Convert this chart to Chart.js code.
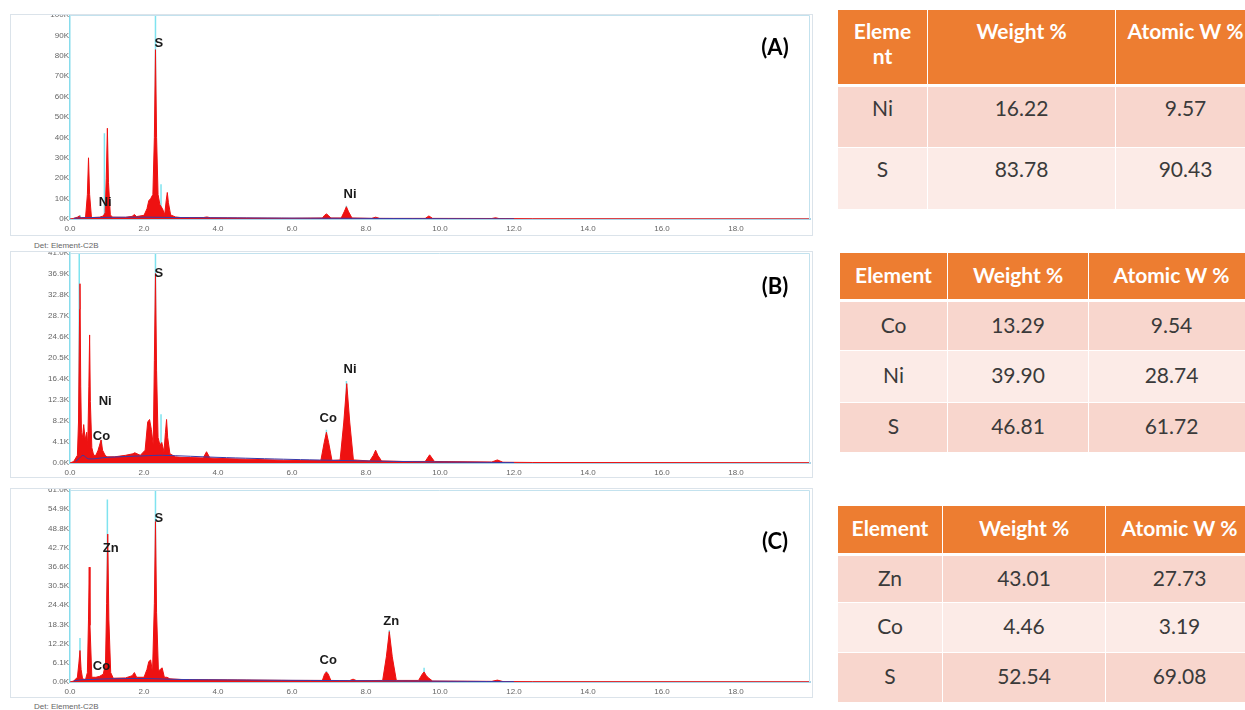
<!DOCTYPE html>
<html>
<head>
<meta charset="utf-8">
<script src="https://cdn.jsdelivr.net/npm/chart.js@4.4.1/dist/chart.umd.min.js"></script>
<style>
  html, body { margin: 0; padding: 0; background: #fff; }
  body { width: 1245px; height: 710px; position: relative; overflow: hidden; font-family: Lato, "Open Sans", sans-serif; }
  .panel { position: absolute; left: 10px; width: 801px; border: 1px solid #dbe3ea; background: #fff; }
  .det { position: absolute; left: 34px; font: 8px "Liberation Sans", Arial, sans-serif; color: #666; }
  table { position: absolute; border-collapse: collapse; table-layout: fixed; font-size: 21px; color: #3a3a3a; }
  th { background: #ed7d31; color: #fff; font-weight: bold; font-size: 21px; border: 1.5px solid #fff; border-bottom: 3px solid #fff; white-space: nowrap; }
  td { border: 1.5px solid #fff; text-align: center; }
  tr.dark td { background: #f8d6cd; }
  tr.light td { background: #fcebe7; }
  #tabA th, #tabA td { vertical-align: top; padding-top: 8px; }
  #tabB th, #tabB td, #tabC th, #tabC td { vertical-align: middle; padding-bottom: 5px; }
</style>
</head>
<body>

<div class="panel" style="top:14px;height:220px"><canvas id="chartA"></canvas></div>
<div class="det" style="top:241px">Det: Element-C2B</div>
<div class="panel" style="top:251px;height:225px"><canvas id="chartB"></canvas></div>
<div class="panel" style="top:488px;height:208px"><canvas id="chartC"></canvas></div>
<div class="det" style="top:702px">Det: Element-C2B</div>

<table id="tabA" style="left:837px;top:9px;width:418px">
  <colgroup><col style="width:90px"><col style="width:188px"><col style="width:140px"></colgroup>
  <tr style="height:76px"><th>Eleme<br>nt</th><th>Weight %</th><th>Atomic W %</th></tr>
  <tr class="dark" style="height:62px"><td>Ni</td><td>16.22</td><td>9.57</td></tr>
  <tr class="light" style="height:62px"><td>S</td><td>83.78</td><td>90.43</td></tr>
</table>

<table id="tabB" style="left:839px;top:252px;width:415px">
  <colgroup><col style="width:108px"><col style="width:141px"><col style="width:166px"></colgroup>
  <tr style="height:48px"><th>Element</th><th>Weight %</th><th>Atomic W %</th></tr>
  <tr class="dark" style="height:50px"><td>Co</td><td>13.29</td><td>9.54</td></tr>
  <tr class="light" style="height:52px"><td>Ni</td><td>39.90</td><td>28.74</td></tr>
  <tr class="dark" style="height:50px"><td>S</td><td>46.81</td><td>61.72</td></tr>
</table>

<table id="tabC" style="left:837px;top:505px;width:416px">
  <colgroup><col style="width:105px"><col style="width:163px"><col style="width:148px"></colgroup>
  <tr style="height:49px"><th>Element</th><th>Weight %</th><th>Atomic W %</th></tr>
  <tr class="dark" style="height:48px"><td>Zn</td><td>43.01</td><td>27.73</td></tr>
  <tr class="light" style="height:50px"><td>Co</td><td>4.46</td><td>3.19</td></tr>
  <tr class="dark" style="height:50px"><td>S</td><td>52.54</td><td>69.08</td></tr>
</table>

<script>
// ---- spectrum A (Ni-S) : energy in keV, counts
const energyA = [0, 0.1, 0.2, 0.25, 0.3, 0.42, 0.47, 0.5, 0.53, 0.58, 0.8, 0.9, 0.95, 0.98, 1.01, 1.04, 1.09, 1.15, 1.5, 1.68, 1.74, 1.8, 2.0, 2.08, 2.13, 2.18, 2.24, 2.28, 2.31, 2.34, 2.38, 2.43, 2.5, 2.56, 2.6, 2.63, 2.66, 2.72, 2.85, 3.0, 3.6, 3.7, 3.8, 5.0, 6.0, 6.82, 6.88, 6.93, 6.98, 7.05, 7.33, 7.41, 7.47, 7.53, 7.62, 8.15, 8.26, 8.37, 9.6, 9.7, 9.8, 11.4, 11.5, 11.6, 12.5, 20];
const countsA = [0, 300, 900, 1500, 600, 700, 12000, 30000, 12000, 700, 900, 1500, 3000, 20000, 44500, 18000, 2000, 900, 800, 1300, 2200, 1200, 1800, 5000, 9000, 10000, 12000, 40000, 83000, 40000, 12000, 7000, 5000, 2200, 9000, 13000, 8000, 2000, 1000, 700, 700, 1000, 600, 450, 350, 500, 1800, 2500, 1800, 500, 500, 3500, 6000, 3500, 500, 300, 900, 300, 300, 1500, 300, 250, 600, 200, 100, 50];
const lineEA = [0.27, 0.93, 2.31, 2.46, 7.47, 8.26];
const lineHA = [2000, 42000, 100000, 17000, 6500, 900];
const bgEA = [0.1, 0.3, 1.0, 2.0, 3.0, 5.0, 8.0, 10.0, 12.0];
const bgCA = [300, 600, 800, 900, 700, 500, 300, 150, 60];
const tagsA = [['S', 2.4, 86000], ['Ni', 0.95, 8000], ['Ni', 7.57, 12000]];

// ---- spectrum B (Co-Ni-S)
const energyB = [0, 0.1, 0.2, 0.23, 0.26, 0.27, 0.29, 0.31, 0.34, 0.37, 0.41, 0.45, 0.48, 0.51, 0.53, 0.55, 0.59, 0.64, 0.7, 0.76, 0.8, 0.84, 0.88, 0.95, 1.0, 1.2, 1.5, 1.7, 1.75, 1.9, 2.03, 2.1, 2.15, 2.2, 2.25, 2.28, 2.31, 2.34, 2.38, 2.43, 2.48, 2.54, 2.58, 2.61, 2.64, 2.7, 2.85, 3.0, 3.6, 3.69, 3.78, 4.0, 5.0, 6.0, 6.78, 6.87, 6.93, 6.99, 7.08, 7.3, 7.4, 7.48, 7.56, 7.66, 8.1, 8.2, 8.26, 8.32, 8.42, 9.0, 9.6, 9.72, 9.85, 11.4, 11.55, 11.7, 12.5, 20];
const countsB = [0, 300, 1500, 8000, 30000, 35000, 15000, 6000, 5000, 7500, 4500, 6000, 3500, 15000, 25000, 12000, 3000, 1500, 1500, 2500, 3500, 4500, 2500, 1500, 1200, 1200, 1500, 1800, 2000, 1500, 2500, 8000, 8500, 6500, 3500, 20000, 37000, 18000, 5000, 3500, 4000, 2200, 6000, 8500, 5000, 1800, 1200, 1100, 1000, 2200, 1000, 900, 700, 500, 500, 4000, 6000, 4000, 500, 600, 8000, 15500, 8000, 600, 400, 1500, 2500, 1500, 400, 300, 300, 1600, 300, 200, 600, 150, 100, 50];
const lineEB = [0.25, 0.78, 0.85, 2.31, 2.46, 6.93, 7.47];
const lineHB = [41000, 3000, 4500, 41000, 9500, 6500, 16000];
const bgEB = [0.15, 0.25, 0.35, 0.5, 1.0, 2.0, 2.5, 4.0, 6.0, 8.0, 10.0, 12.0];
const bgCB = [300, 900, 1500, 800, 1100, 1400, 1500, 1100, 700, 400, 200, 80];
const tagsB = [['S', 2.4, 37000], ['Ni', 0.95, 12000], ['Co', 0.85, 5200], ['Co', 6.98, 8800], ['Ni', 7.57, 18200]];

// ---- spectrum C (Zn-Co-S)
const energyC = [0, 0.1, 0.2, 0.24, 0.27, 0.3, 0.34, 0.42, 0.47, 0.5, 0.52, 0.54, 0.59, 0.7, 0.8, 0.9, 0.96, 0.99, 1.02, 1.05, 1.1, 1.17, 1.5, 1.68, 1.74, 1.8, 2.0, 2.08, 2.13, 2.18, 2.23, 2.28, 2.31, 2.34, 2.39, 2.44, 2.49, 2.55, 2.62, 2.7, 3.0, 4.0, 5.0, 6.0, 6.82, 6.88, 6.93, 6.98, 7.05, 7.55, 7.65, 7.75, 8.45, 8.55, 8.63, 8.71, 8.82, 9.42, 9.52, 9.57, 9.63, 9.7, 9.8, 11.4, 11.55, 11.7, 12.5, 20];
const countsC = [0, 300, 1500, 6000, 10000, 4000, 1000, 800, 3000, 20000, 36500, 18000, 1500, 1500, 1800, 2500, 6000, 25000, 47000, 20000, 3000, 1200, 1300, 2000, 3000, 1500, 1500, 4000, 6500, 7000, 3000, 25000, 51000, 22000, 3500, 4000, 4500, 1500, 1500, 1000, 800, 700, 600, 500, 500, 2500, 3200, 2500, 500, 400, 900, 400, 500, 8000, 16000, 8000, 500, 500, 2500, 3200, 2000, 1200, 300, 200, 600, 150, 100, 50];
const lineEC = [0.27, 1.01, 2.31, 6.93, 8.63, 9.57];
const lineHC = [14000, 58000, 61000, 3500, 16500, 4500];
const bgEC = [0.1, 0.3, 0.6, 1.0, 2.0, 3.0, 5.0, 8.0, 10.0, 12.0];
const bgCC = [300, 700, 800, 1000, 1100, 800, 600, 400, 250, 100];
const tagsC = [['S', 2.4, 52000], ['Zn', 1.1, 42500], ['Co', 0.85, 5000], ['Co', 6.98, 6800], ['Zn', 8.68, 19200]];

const xTicks = [0, 2, 4, 6, 8, 10, 12, 14, 16, 18];

function pts(xs, ys) { return xs.map((x, i) => ({ x: x, y: ys[i] })); }
function sticks(xs, hs) { return xs.flatMap((x, i) => [{ x: x, y: 0 }, { x: x, y: hs[i] }, { x: x, y: null }]); }

const decor = {
  id: 'decor',
  afterDatasetsDraw(chart, args, opts) {
    const { ctx, chartArea: a, scales: { x, y } } = chart;
    ctx.save();
    ctx.strokeStyle = '#c3e2ee';
    ctx.lineWidth = 1;
    ctx.beginPath();
    ctx.moveTo(a.left, a.top + 0.5); ctx.lineTo(a.right - 0.5, a.top + 0.5); ctx.lineTo(a.right - 0.5, a.bottom);
    ctx.stroke();
    ctx.fillStyle = '#1a1a1a';
    ctx.font = 'bold 13px "Liberation Sans", Arial, sans-serif';
    ctx.textAlign = 'center';
    ctx.textBaseline = 'middle';
    opts.tags.forEach(t => ctx.fillText(t[0], x.getPixelForValue(t[1]), y.getPixelForValue(t[2])));
    ctx.font = 'bold 22px Lato, sans-serif';
    ctx.fillStyle = '#000';
    ctx.fillText(opts.panel, a.right - 35, a.top + opts.panelY);
    ctx.restore();
  }
};

function makeChart(id, cfg) {
  new Chart(document.getElementById(id), {
    type: 'line',
    data: {
      datasets: [
        // cyan element markers sit behind the red spectrum
        { data: sticks(cfg.lineE, cfg.lineH), order: 3, borderColor: '#7fe3ef', borderWidth: 1.5, pointRadius: 0, fill: false, spanGaps: false },
        { data: pts(cfg.energy, cfg.counts), order: 2, borderColor: '#ee1111', backgroundColor: '#ee1111', borderWidth: 1, pointRadius: 0, fill: 'origin', tension: 0 },
        { data: pts(cfg.bgE, cfg.bgC), order: 1, borderColor: '#3a3aa8', borderWidth: 1, pointRadius: 0, fill: false, tension: 0.3 }
      ]
    },
    options: {
      responsive: true,
      maintainAspectRatio: false,
      animation: false,
      events: [],
      layout: { padding: { top: cfg.padTop, right: 2, left: 0, bottom: 0 } },
      plugins: { legend: { display: false }, tooltip: { enabled: false }, decor: { tags: cfg.tags, panel: cfg.panel, panelY: cfg.panelY } },
      scales: {
        x: {
          type: 'linear', min: 0, max: 20,
          grid: { display: false, drawTicks: false },
          border: { color: '#a9d3e6', width: 2 },
          afterBuildTicks: s => { s.ticks = xTicks.map(v => ({ value: v })); },
          afterFit: s => { s.height = cfg.xH; s.paddingLeft = 0; s.paddingRight = 0; },
          ticks: { padding: 5, color: '#666', font: { size: 8, family: '"Liberation Sans", Arial, sans-serif' }, callback: v => v.toFixed(1), maxRotation: 0 }
        },
        y: {
          min: 0, max: cfg.yMax,
          grid: { display: false, drawTicks: false },
          border: { color: '#86dcec', width: 1.5 },
          afterBuildTicks: s => { s.ticks = cfg.yTicks.map(v => ({ value: v })); },
          afterFit: s => { s.width = 59; s.paddingTop = 0; s.paddingBottom = 0; },
          ticks: { padding: 1, color: '#666', font: { size: 8, family: '"Liberation Sans", Arial, sans-serif' }, callback: cfg.fmt }
        }
      }
    },
    plugins: [decor]
  });
}

const yTicksA = [0, 10000, 20000, 30000, 40000, 50000, 60000, 70000, 80000, 90000, 100000];
const yTicksB = [0, 4100, 8200, 12300, 16400, 20500, 24600, 28700, 32800, 36900, 41000];
const yTicksC = [0, 6100, 12200, 18300, 24400, 30500, 36600, 42700, 48800, 54900, 61000];

makeChart('chartA', { energy: energyA, counts: countsA, lineE: lineEA, lineH: lineHA, bgE: bgEA, bgC: bgCA, tags: tagsA,
  panel: '(A)', panelY: 33, yMax: 100000, yTicks: yTicksA, fmt: v => (v / 1000) + 'K', padTop: 0, xH: 16 });
makeChart('chartB', { energy: energyB, counts: countsB, lineE: lineEB, lineH: lineHB, bgE: bgEB, bgC: bgCB, tags: tagsB,
  panel: '(B)', panelY: 34, yMax: 41000, yTicks: yTicksB, fmt: v => (v / 1000).toFixed(1) + 'K', padTop: 1, xH: 14 });
makeChart('chartC', { energy: energyC, counts: countsC, lineE: lineEC, lineH: lineHC, bgE: bgEC, bgC: bgCC, tags: tagsC,
  panel: '(C)', panelY: 52, yMax: 61000, yTicks: yTicksC, fmt: v => (v / 1000).toFixed(1) + 'K', padTop: 1, xH: 15 });
</script>
</body>
</html>
